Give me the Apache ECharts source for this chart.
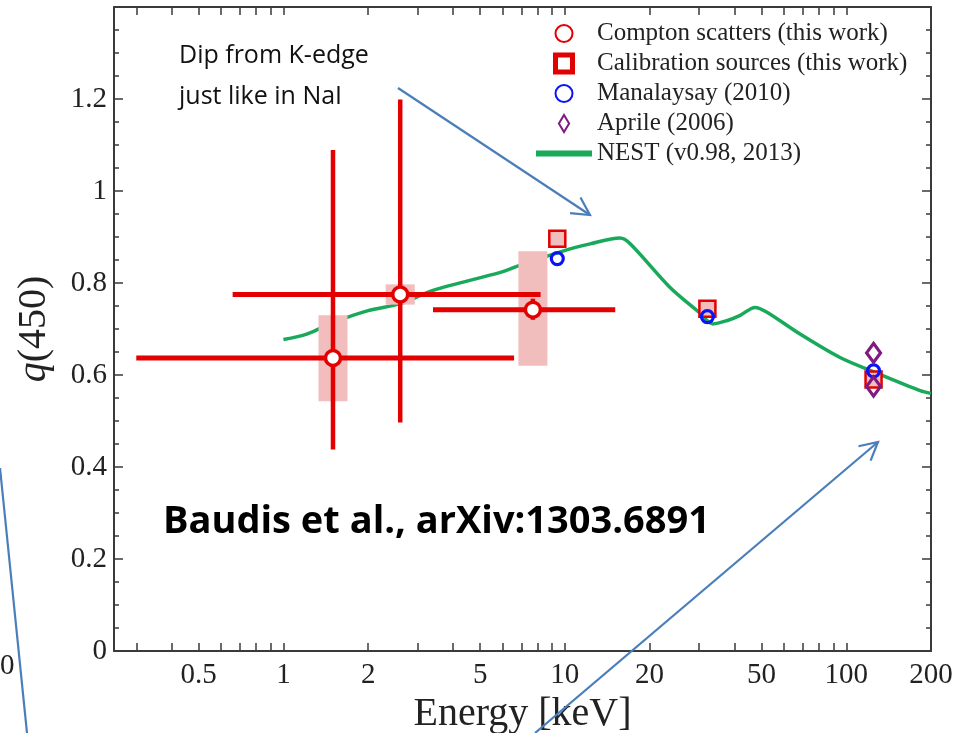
<!DOCTYPE html>
<html>
<head>
<meta charset="utf-8">
<script src="https://cdn.jsdelivr.net/npm/echarts@6/dist/echarts.min.js"></script>
<style>
  html, body { margin: 0; padding: 0; background: #ffffff; }
  #chart { width: 966px; height: 733px; }
</style>
</head>
<body>
<div id="chart"></div>
<script>
// Compton-scatter measurements (energy in keV, q = relative light yield)
const comptonEnergy     = [1.5, 2.6, 7.7];
const comptonQ          = [0.637, 0.775, 0.742];
const comptonEnergyLow  = [0.30, 0.66, 3.4];
const comptonEnergyHigh = [6.6, 8.2, 15.1];
const comptonQLow       = [0.438, 0.497, 0.720];
const comptonQHigh      = [1.089, 1.199, 0.766];
const comptonSysLow     = [0.543, 0.753, 0.620];
const comptonSysHigh    = [0.730, 0.797, 0.869];

// Calibration sources
const calibEnergy = [9.4, 32.1, 125];
const calibQ      = [0.896, 0.744, 0.590];

// Manalaysay (2010)
const manalaysayEnergy = [9.4, 32.1, 125];
const manalaysayQ      = [0.853, 0.727, 0.609];

// Aprile (2006)
const aprileEnergy = [125, 125];
const aprileQ      = [0.648, 0.575];

// NEST (v0.98, 2013) curve
const nestEnergy = [1.0, 1.21, 1.5, 2.0, 2.6, 3.4, 5.9, 6.75, 9.9, 12.3, 15.7, 17.1, 23.6, 29.9, 33.6, 37.6, 41.8, 47.4, 52.1, 68.5, 95, 125, 183, 200];
const nestQ      = [0.677, 0.689, 0.714, 0.740, 0.755, 0.784, 0.823, 0.836, 0.870, 0.885, 0.898, 0.885, 0.791, 0.737, 0.711, 0.718, 0.729, 0.747, 0.737, 0.689, 0.638, 0.607, 0.566, 0.560];

// Axis ticks
const xTickEnergies  = [0.3, 0.4, 0.5, 0.6, 0.7, 0.8, 0.9, 1, 2, 3, 4, 5, 6, 7, 8, 9, 10, 20, 30, 40, 50, 60, 70, 80, 90, 100, 200];
const xLabelEnergies = [0.5, 1, 2, 5, 10, 20, 50, 100, 200];
const xRange = [0.25, 200];
const yRange = [0, 1.4];
const yStep = 0.2;

const seriesNames = [
  'Compton scatters (this work)',
  'Calibration sources (this work)',
  'Manalaysay (2010)',
  'Aprile (2006)',
  'NEST (v0.98, 2013)'
];

const RED = '#e30000';
const PINK = '#f1bdbd';
const BLUE = '#0a14f5';
const PURPLE = '#7e1a80';
const GREEN = '#19a95a';
const AXIS = '#3a3a3a';
const SERIF = '"Liberation Serif", "Times New Roman", serif';
const SANS = '"Open Sans", "Noto Sans", sans-serif';
const ARROW = '#4a7ebb';

const lg = v => Math.log10(v);
const pairs = (xs, ys) => xs.map((x, i) => [lg(x), ys[i]]);

const comptonRows = comptonEnergy.map((e, i) => [
  lg(e), comptonQ[i], lg(comptonEnergyLow[i]), lg(comptonEnergyHigh[i]),
  comptonQLow[i], comptonQHigh[i], comptonSysLow[i], comptonSysHigh[i]
]);

const energyText = v => {
  const e = Math.pow(10, v);
  return String(Math.round(e * 100) / 100);
};

const xAxisBase = {
  type: 'value',
  min: lg(xRange[0]),
  max: lg(xRange[1]),
  axisLine: { show: true, onZero: false, lineStyle: { color: AXIS, width: 2 } },
  axisTick: { show: true, inside: true, length: 8, customValues: xTickEnergies.map(lg), lineStyle: { color: AXIS, width: 1.5 } },
  splitLine: { show: false }
};

const yAxisBase = {
  type: 'value',
  min: yRange[0],
  max: yRange[1],
  interval: yStep,
  axisLine: { show: true, onZero: false, lineStyle: { color: AXIS, width: 2 } },
  axisTick: { show: true, inside: true, length: 9, lineStyle: { color: AXIS, width: 1.5 } },
  minorTick: { show: true, splitNumber: 4, length: 5, lineStyle: { color: AXIS, width: 1.5 } },
  splitLine: { show: false },
  minorSplitLine: { show: false }
};

function arrowShapes(x1, y1, x2, y2, withHead) {
  const out = [{
    type: 'polyline',
    shape: { points: [[x1, y1], [x2, y2]] },
    style: { stroke: ARROW, lineWidth: 2.2, fill: null },
    z: 50
  }];
  if (withHead) {
    const ang = Math.atan2(y2 - y1, x2 - x1);
    const L = 20, a = 28 * Math.PI / 180;
    out.push({
      type: 'polyline',
      shape: { points: [
        [x2 - L * Math.cos(ang - a), y2 - L * Math.sin(ang - a)],
        [x2, y2],
        [x2 - L * Math.cos(ang + a), y2 - L * Math.sin(ang + a)]
      ] },
      style: { stroke: ARROW, lineWidth: 2.2, fill: null },
      z: 50
    });
  }
  return out;
}

const chart = echarts.init(document.getElementById('chart'), null, { renderer: 'canvas' });

chart.setOption({
  backgroundColor: '#ffffff',
  animation: false,
  grid: { left: 114, right: 35, top: 7, bottom: 82, containLabel: false, outerBoundsMode: 'none' },
  legend: {
    orient: 'vertical',
    left: 528,
    top: 16,
    itemWidth: 56,
    itemHeight: 17,
    itemGap: 5,
    selectedMode: false,
    textStyle: { fontFamily: SERIF, fontSize: 25, color: '#222', lineHeight: 25 },
    data: [
      { name: seriesNames[0] },
      { name: seriesNames[1], icon: 'path://M0,0 L10,0 L10,10 L0,10 Z', itemStyle: { color: '#ffffff', borderColor: RED, borderWidth: 5 } },
      { name: seriesNames[2] },
      { name: seriesNames[3], icon: 'path://M7,0 L13,10 L7,20 L1,10 Z' },
      { name: seriesNames[4], itemStyle: { color: 'rgba(0,0,0,0)', borderColor: 'rgba(0,0,0,0)', borderWidth: 0 }, lineStyle: { color: GREEN, width: 6 } }
    ]
  },
  xAxis: [
    Object.assign({}, xAxisBase, {
      position: 'bottom',
      name: 'Energy [keV]',
      nameLocation: 'middle',
      nameGap: 31,
      nameTextStyle: { fontFamily: SERIF, fontSize: 40, color: '#222' },
      axisLabel: {
        show: true, margin: 10, customValues: xLabelEnergies.map(lg),
        formatter: energyText,
        fontFamily: SERIF, fontSize: 29, color: '#222'
      }
    }),
    Object.assign({}, xAxisBase, { position: 'top', axisLabel: { show: false } })
  ],
  yAxis: [
    Object.assign({}, yAxisBase, {
      position: 'left',
      name: '{q|q}(450)',
      nameLocation: 'middle',
      nameGap: 60,
      nameTextStyle: {
        fontFamily: SERIF, fontSize: 40, color: '#222',
        rich: { q: { fontFamily: SERIF, fontSize: 40, fontStyle: 'italic', color: '#222' } }
      },
      axisLabel: {
        show: true, margin: 7, fontFamily: SERIF, fontSize: 29, color: '#222',
        formatter: v => (v > 1.3 ? '' : String(Math.round(v * 10) / 10))
      }
    }),
    Object.assign({}, yAxisBase, { position: 'right', axisLabel: { show: false } })
  ],
  series: [
    {
      name: seriesNames[4],
      type: 'line',
      data: pairs(nestEnergy, nestQ),
      symbol: 'none',
      showSymbol: false,
      smooth: 0.3,
      lineStyle: { color: GREEN, width: 3.5 },
      itemStyle: { color: GREEN },
      z: 1
    },
    {
      name: 'compton-systematics',
      type: 'custom',
      data: comptonRows,
      encode: { x: 0, y: 1 },
      z: 2,
      renderItem: (params, api) => {
        const lo = api.coord([api.value(0), api.value(6)]);
        const hi = api.coord([api.value(0), api.value(7)]);
        const w = 29;
        return {
          type: 'rect',
          shape: { x: lo[0] - w / 2, y: hi[1], width: w, height: lo[1] - hi[1] },
          style: { fill: PINK }
        };
      }
    },
    {
      name: 'compton-errors',
      type: 'custom',
      data: comptonRows,
      encode: { x: 0, y: 1 },
      z: 3,
      renderItem: (params, api) => {
        const c = api.coord([api.value(0), api.value(1)]);
        const l = api.coord([api.value(2), api.value(1)]);
        const r = api.coord([api.value(3), api.value(1)]);
        const b = api.coord([api.value(0), api.value(4)]);
        const t = api.coord([api.value(0), api.value(5)]);
        return {
          type: 'group',
          children: [
            { type: 'line', shape: { x1: l[0], y1: c[1], x2: r[0], y2: c[1] }, style: { stroke: RED, lineWidth: 5 } },
            { type: 'line', shape: { x1: c[0], y1: t[1], x2: c[0], y2: b[1] }, style: { stroke: RED, lineWidth: 4.5 } }
          ]
        };
      }
    },
    {
      name: seriesNames[0],
      type: 'scatter',
      data: pairs(comptonEnergy, comptonQ),
      symbol: 'circle',
      symbolSize: 15,
      itemStyle: { color: '#ffffff', borderColor: RED, borderWidth: 3.5, opacity: 1 },
      z: 4
    },
    {
      name: seriesNames[1],
      type: 'scatter',
      data: pairs(calibEnergy, calibQ),
      symbol: 'rect',
      symbolSize: 16,
      itemStyle: { color: PINK, borderColor: RED, borderWidth: 2.5, opacity: 1 },
      z: 4
    },
    {
      name: seriesNames[2],
      type: 'scatter',
      data: pairs(manalaysayEnergy, manalaysayQ),
      symbol: 'circle',
      symbolSize: 12,
      itemStyle: { color: 'rgba(255,255,255,0)', borderColor: BLUE, borderWidth: 3.2, opacity: 1 },
      z: 5
    },
    {
      name: seriesNames[3],
      type: 'scatter',
      data: pairs(aprileEnergy, aprileQ),
      symbol: 'diamond',
      symbolSize: [14, 19],
      itemStyle: { color: 'rgba(255,255,255,0)', borderColor: PURPLE, borderWidth: 3.2, opacity: 1 },
      z: 5
    }
  ],
  graphic: [
    {
      type: 'text', x: 179, y: 56, z: 50,
      style: { text: 'Dip from K-edge', fontFamily: SANS, fontSize: 25, fill: '#111', align: 'left', verticalAlign: 'middle' }
    },
    {
      type: 'text', x: 179, y: 97, z: 50,
      style: { text: 'just like in NaI', fontFamily: SANS, fontSize: 25, fill: '#111', align: 'left', verticalAlign: 'middle' }
    },
    {
      type: 'text', x: 163, y: 522, z: 50,
      style: { text: 'Baudis et al., arXiv:1303.6891', fontFamily: SANS, fontSize: 38, fontWeight: 'bold', fill: '#000', align: 'left', verticalAlign: 'middle' }
    },
    {
      type: 'text', x: 0, y: 666, z: 50,
      style: { text: '0', fontFamily: SERIF, fontSize: 29, fill: '#222', align: 'left', verticalAlign: 'middle' }
    }
  ]
    .concat(arrowShapes(398, 88, 590, 215, true))
    .concat(arrowShapes(535, 733, 878, 442, true))
    .concat(arrowShapes(0, 468, 27, 733, false))
});
</script>
</body>
</html>
